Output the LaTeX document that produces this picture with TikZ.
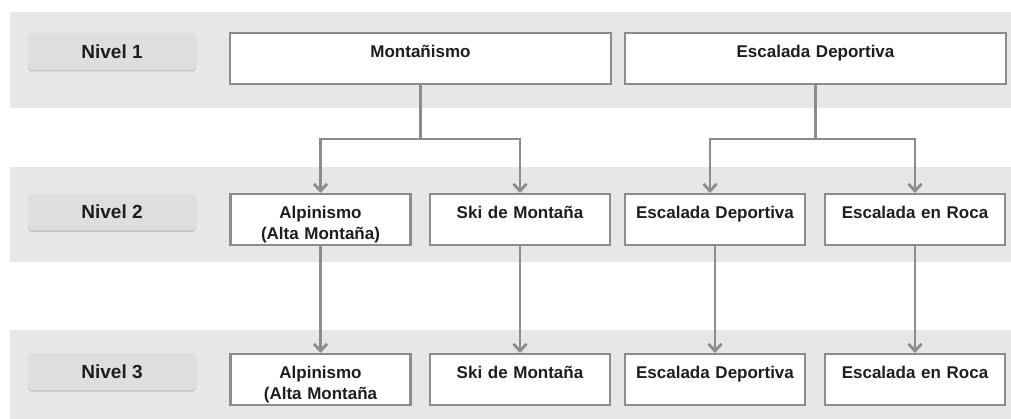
\documentclass[tikz,border=0pt]{standalone}
\usepackage{fontspec}
\setmainfont{Liberation Sans}
\usetikzlibrary{arrows.meta,shadows}

\definecolor{bandgray}{HTML}{E7E7E7}
\definecolor{labelgray}{HTML}{DEDEDE}
\definecolor{linegray}{HTML}{8C8C8C}
\definecolor{textblack}{HTML}{1E1E1E}

\tikzset{
	band/.style={fill=bandgray,draw=none},
	nivel/.style={fill=labelgray,rounded corners=4pt,minimum width=168pt,minimum height=37pt,
		font=\fontsize{19}{22}\selectfont\bfseries,text=textblack,
		drop shadow={shadow xshift=0pt,shadow yshift=-1.5pt,opacity=0.35}},
	caja/.style={draw=linegray,line width=2.2pt,fill=white,anchor=north,inner sep=0pt,
		text width=#1,align=center,text height=24pt,text depth=27pt,
		font=\fontsize{17}{21}\selectfont\bfseries,text=textblack},
	caja/.default=180pt,
	flecha/.style={draw=linegray,line width=2.8pt,-{Straight Barb[length=7pt,width=13pt]}},
	linea/.style={draw=linegray,line width=2.8pt}
}

\begin{document}
\begin{tikzpicture}[x=1pt,y=-1pt]
	\useasboundingbox (0,0) rectangle (1011,419);
	
	% bandas
	\fill[band] (10,12) rectangle (1011,108);
	\fill[band] (10,167) rectangle (1011,262);
	\fill[band] (10,330) rectangle (1011,419);
	
	\node[nivel] (n1) at (112,51.5) {Nivel 1};
	\node[nivel] (n2) at (112,212) {Nivel 2};
	\node[nivel] (n3) at (112,371.5) {Nivel 3};
	
	% nivel 1
	\node[caja=381pt] (mont) at (420.5,32) {Montañismo};
	\node[caja=381pt] (esc) at (815.5,32) {Escalada Deportiva};
	
	% nivel 2
	\node[caja] (alp2) at (320.5,193) {Alpinismo\\(Alta Montaña)};
	\node[caja] (ski2) at (520,193) {Ski de Montaña};
	\node[caja] (dep2) at (715,193) {Escalada Deportiva};
	\node[caja] (roc2) at (915,193) {Escalada en Roca};
	
	% nivel 3
	\node[caja] (alp3) at (320.5,353) {Alpinismo\\(Alta Montaña};
	\node[caja] (ski3) at (520,353) {Ski de Montaña};
	\node[caja] (dep3) at (715,353) {Escalada Deportiva};
	\node[caja] (roc3) at (915,353) {Escalada en Roca};
	
	\coordinate (m) at (420.5,139);
	\coordinate (e) at (815.5,139);
	\draw[linea] (mont.south) -- (m);
	\draw[linea] (esc.south) -- (e);
	\draw[flecha] (m) -| (alp2.north);
	\draw[flecha] (m) -| (ski2.north);
	\draw[flecha] (e) -| ([xshift=-5pt]dep2.north);
	\draw[flecha] (e) -| (roc2.north);
	
	\draw[flecha] (alp2) -- (alp3);
	\draw[flecha] (ski2) -- (ski3);
	\draw[flecha] (dep2) -- (dep3);
	\draw[flecha] (roc2) -- (roc3);
\end{tikzpicture}
\end{document}
